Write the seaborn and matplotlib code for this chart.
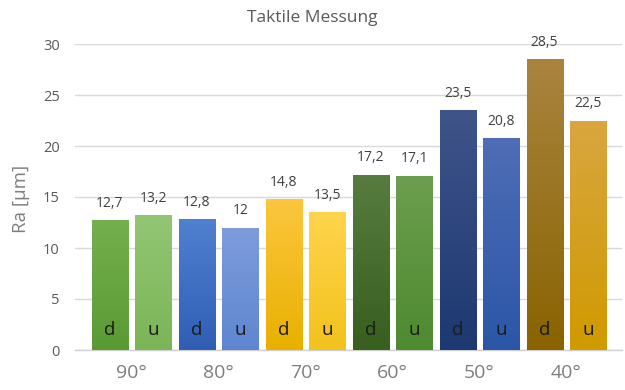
import numpy as np
import pandas as pd
import matplotlib
matplotlib.use("Agg")
import matplotlib.pyplot as plt
from matplotlib.colors import LinearSegmentedColormap
import seaborn as sns

# Surface roughness per angle, measured in two directions (d / u)
angles = ["90°", "80°", "70°", "60°", "50°", "40°"]
directions = ["d", "u"]
ra_values = [12.7, 13.2, 12.8, 12.0, 14.8, 13.5, 17.2, 17.1, 23.5, 20.8, 28.5, 22.5]

# Gradient colours (top, bottom) for each bar
top_colors = ["#74b04d", "#93c674", "#5080d0", "#7e9cdb", "#fcc63e", "#ffd44c",
              "#587c40", "#6c9e4f", "#3f5489", "#4f6db6", "#a9843f", "#d9a640"]
bottom_colors = ["#5a9a33", "#7ab556", "#2f5eb4", "#5e86cf", "#e9b000", "#f2c21c",
                 "#375f1e", "#4e8a2f", "#1d3971", "#2b56a7", "#896300", "#d09a00"]

bar_ids = [f"{a}{d}" for a in angles for d in directions]
df = pd.DataFrame({"bar": bar_ids, "ra": ra_values,
                   "dir": [d for _ in angles for d in directions]})

sns.set_theme(style="white")
plt.rcParams["font.family"] = ["Open Sans", "DejaVu Sans"]

fig = plt.figure(figsize=(6.25, 3.9), dpi=100)
ax = fig.add_axes([75 / 625, 1 - 350 / 390, 547 / 625, 306 / 390])

sns.barplot(data=df, x="bar", y="ra", hue="bar", palette=bottom_colors,
            order=bar_ids, hue_order=bar_ids, legend=False, width=0.83,
            edgecolor="#dcdcdc", linewidth=0.8, ax=ax, zorder=3)

# Vertical gradient fill inside each bar
for patch, ct, cb in zip(ax.patches, top_colors, bottom_colors):
    x0, y0 = patch.get_x(), patch.get_y()
    w, h = patch.get_width(), patch.get_height()
    cmap = LinearSegmentedColormap.from_list("g", [cb, ct])
    grad = np.linspace(0, 1, 256).reshape(-1, 1)
    im = ax.imshow(grad, cmap=cmap, aspect="auto", origin="lower",
                   extent=[x0, x0 + w, y0, y0 + h], zorder=3.5)
    im.set_clip_path(patch)

ax.set_xlim(-0.8, 11.78)
ax.set_ylim(0, 30)

# Value labels above the bars and direction letters inside
for i, (v, d) in enumerate(zip(ra_values, df["dir"])):
    txt = f"{v:g}".replace(".", ",")
    ax.text(i, v + 0.9, txt, ha="center", va="bottom", fontsize=10,
            color="#404040", zorder=5)
    ax.text(i, 2.0, d, ha="center", va="center", fontsize=13.5,
            color="#1a1a1a", zorder=5)

ax.set_yticks([0, 5, 10, 15, 20, 25, 30])
ax.set_yticklabels(["0", "5", "10", "15", "20", "25", "30"], fontsize=10.5,
                   color="#595959")
ax.set_xticks([0.5 + 2 * k for k in range(len(angles))])
ax.set_xticklabels(angles, fontsize=14, color="#7f7f7f")
ax.tick_params(axis="both", length=0)
ax.tick_params(axis="y", pad=11)
ax.tick_params(axis="x", pad=10)

ax.grid(axis="y", color="#d9d9d9", linewidth=1, zorder=0)
ax.set_axisbelow(True)
for s in ["top", "right", "left"]:
    ax.spines[s].set_visible(False)
ax.spines["bottom"].set_color("#d0d0d0")
ax.spines["bottom"].set_linewidth(1)

ax.set_xlabel("")
ax.set_ylabel("Ra [µm]", fontsize=13.5, color="#7f7f7f")
ax.yaxis.set_label_coords(-(75 - 30) / 547, (350 - 199) / 306)
fig.text(0.5, 1 - 18 / 390, "Taktile Messung", ha="center", va="center",
         fontsize=12.5, color="#595959")

fig.savefig("out.png", dpi=100, facecolor="white")
